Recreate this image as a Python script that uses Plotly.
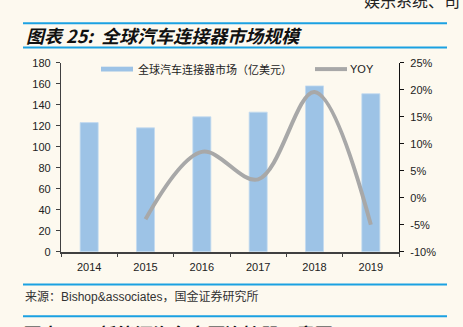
import plotly.graph_objects as go

# Global automotive connector market size (USD 100m) and YoY growth
years = ["2014", "2015", "2016", "2017", "2018", "2019"]
market_size = [123, 118, 128.5, 133, 158, 150.5]
yoy_years = ["2015", "2016", "2017", "2018", "2019"]
yoy_pct = [-4.0, 8.5, 3.4, 19.6, -5.0]

left_ticks = list(range(0, 181, 20))
right_ticks = list(range(-10, 26, 5))

W, H = 463, 327
BG = "#FDF9EF"
BAR = "#9DC3E6"
LINE = "#A8A8A8"
RULE = "#1BA1E2"
CJK = "Noto Sans CJK SC"
LAT = "Liberation Sans, Arial, sans-serif"


def px_x(x):
    return x / W


def px_y(y):
    return 1 - y / H


fig = go.Figure()
fig.add_trace(go.Bar(x=years, y=market_size, marker=dict(color=BAR, line=dict(color="#C3DAF0", width=0.8)),
                     yaxis="y", showlegend=False, hoverinfo="skip"))
fig.add_trace(go.Scatter(x=yoy_years, y=yoy_pct, mode="lines", yaxis="y2",
                         line=dict(color=LINE, width=4, shape="spline", smoothing=1.0),
                         showlegend=False, hoverinfo="skip"))

x0, x1 = px_x(61), px_x(399)
y0, y1 = px_y(255), px_y(59)

fig.update_layout(
    width=W, height=H,
    margin=dict(l=0, r=0, t=0, b=0),
    paper_bgcolor=BG, plot_bgcolor=BG,
    bargap=0.68,
    xaxis=dict(domain=[x0, x1], type="category", showline=True, linecolor="#404040", linewidth=1.5,
               ticks="outside", tickson="boundaries", ticklen=4, tickcolor="#404040",
               ticklabelstandoff=4,
               tickfont=dict(family=LAT, size=11, color="#222"), showgrid=False, zeroline=False),
    yaxis=dict(domain=[y0, y1], range=[0, 180], tickvals=left_ticks, showline=True,
               linecolor="#404040", linewidth=1.3, ticks="outside", ticklen=4, tickcolor="#404040",
               ticklabelstandoff=3,
               tickfont=dict(family=LAT, size=11, color="#222"), showgrid=False, zeroline=False),
    yaxis2=dict(overlaying="y", side="right", anchor="x", range=[-10, 25], tickvals=right_ticks,
                ticktext=[f"{v}%" for v in right_ticks], showline=True, linecolor="#111",
                linewidth=1.3, ticks="outside", ticklen=4, tickcolor="#111",
                ticklabelstandoff=4,
                tickfont=dict(family=LAT, size=11, color="#222"), showgrid=False, zeroline=False),
)

shapes = []
# horizontal rules framing the title and source
for yy in (18, 43, 289, 322):
    shapes.append(dict(type="line", xref="paper", yref="paper", x0=px_x(23), x1=px_x(447),
                       y0=px_y(yy), y1=px_y(yy), line=dict(color=RULE, width=2)))
# legend swatches
shapes.append(dict(type="rect", xref="paper", yref="paper", x0=px_x(101), x1=px_x(133),
                   y0=px_y(68), y1=px_y(63), fillcolor=BAR, line=dict(width=0)))
shapes.append(dict(type="line", xref="paper", yref="paper", x0=px_x(315), x1=px_x(347),
                   y0=px_y(65.5), y1=px_y(65.5), line=dict(color=LINE, width=4)))
fig.update_layout(shapes=shapes)

annotations = [
    dict(text="<b><i>图表 25:  全球汽车连接器市场规模</i></b>", x=px_x(24), y=px_y(30.5),
         xanchor="left", yanchor="middle", font=dict(family=CJK, size=18, color="#111")),
    dict(text="娱乐系统、司", x=px_x(362), y=px_y(-6), xanchor="left", yanchor="middle",
         font=dict(family=CJK, size=16, color="#222")),
    dict(text="全球汽车连接器市场（亿美元）", x=px_x(136), y=px_y(65.5), xanchor="left",
         yanchor="middle", font=dict(family=CJK, size=11, color="#222")),
    dict(text="YOY", x=px_x(348), y=px_y(65.5), xanchor="left", yanchor="middle",
         font=dict(family=LAT, size=11, color="#222")),
    dict(text="来源：<span style='font-family:Liberation Sans'>Bishop&amp;associates</span>，国金证券研究所",
         x=px_x(23), y=px_y(301), xanchor="left", yanchor="middle",
         font=dict(family=CJK, size=12, color="#333")),
    dict(text="<b><i>图表 26:  新能源汽车高压连接器示意图</i></b>", x=px_x(18), y=px_y(339.5),
         xanchor="left", yanchor="middle", font=dict(family=CJK, size=18, color="#111")),
]
for a in annotations:
    a.update(xref="paper", yref="paper", showarrow=False)
fig.update_layout(annotations=annotations)

fig.write_html("out.html")
